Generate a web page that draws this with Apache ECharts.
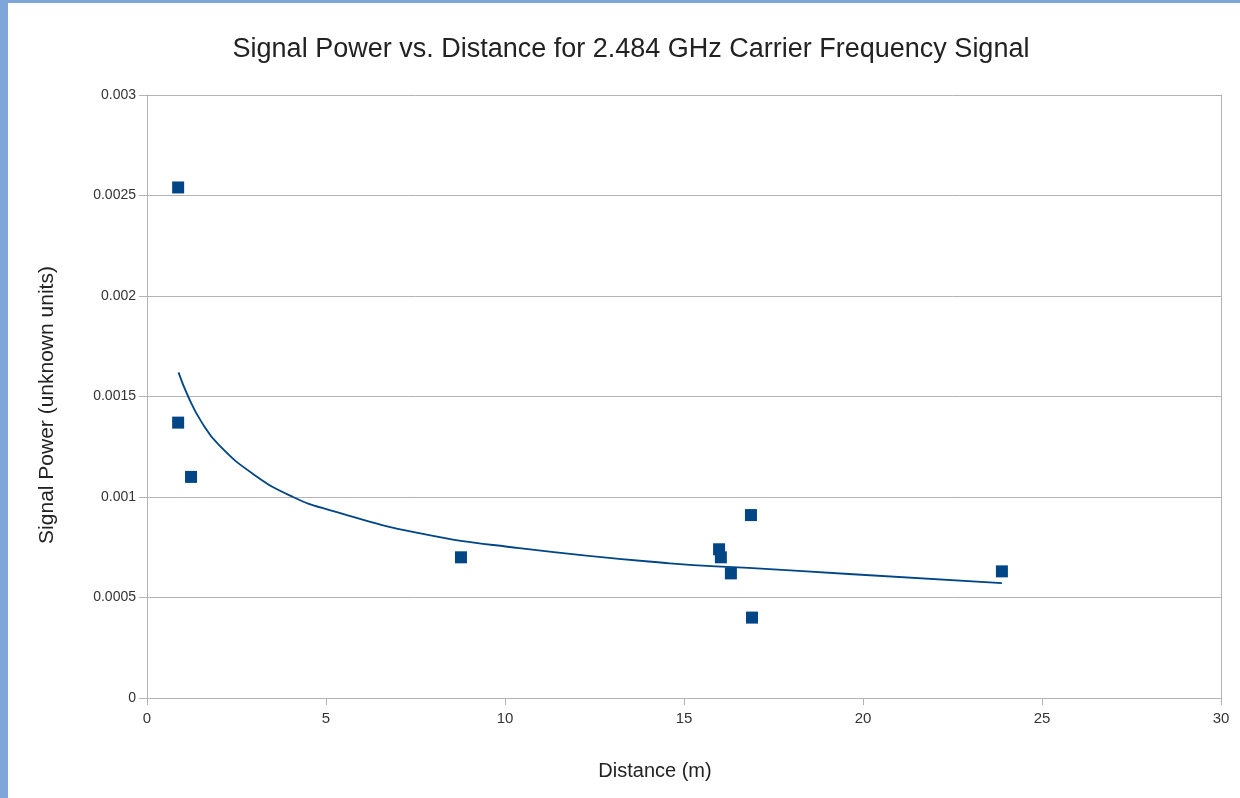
<!DOCTYPE html>
<html>
<head>
<meta charset="utf-8">
<script src="https://cdn.jsdelivr.net/npm/echarts@6/dist/echarts.min.js"></script>
<style>
    html, body { margin: 0; padding: 0; background: #fff; }
    #chart { width: 1240px; height: 798px; }
</style>
</head>
<body>
<div id="chart"></div>
<script>
// measured points: distance (m), signal power
const distance = [0.87, 0.87, 1.23, 8.77, 15.98, 16.03, 16.31, 16.87, 16.9, 23.88];
const power = [0.00254, 0.00137, 0.00110, 0.00070, 0.00074, 0.00070, 0.00062, 0.00091, 0.00040, 0.00063];

// trendline
const trendX = [0.88, 1.15, 1.5, 2, 3, 4.08, 5.1, 7.6, 10.4, 14.6, 16.8, 19.6, 23.88];
const trendY = [0.00162, 0.0015, 0.00138, 0.00126, 0.00111, 0.001, 0.000935, 0.00082, 0.000746, 0.00067, 0.000647, 0.000617, 0.000572];

const textColor = "#333";
const gridColor = "#b3b3b3";
const markColor = "#004586";
const stripe = "#7ea6d8";

const chart = echarts.init(document.getElementById("chart"));
chart.setOption({
    animation: false,
    backgroundColor: "#fff",
    textStyle: { fontFamily: "Liberation Sans" },
    graphic: [
        { type: "rect", shape: { x: 0, y: 0, width: 8, height: 798 }, style: { fill: stripe } },
        { type: "rect", shape: { x: 0, y: 0, width: 1240, height: 3 }, style: { fill: stripe } },
        {
            type: "text", x: 655, y: 771,
            style: { text: "Distance (m)", fontSize: 20, fill: "#222", fontFamily: "Liberation Sans", align: "center", verticalAlign: "middle" },
        },
        {
            type: "text", x: 47, y: 405, rotation: Math.PI / 2,
            style: { text: "Signal Power (unknown units)", fontSize: 21, fill: "#222", fontFamily: "Liberation Sans", align: "center", verticalAlign: "middle" },
        },
    ],
    title: {
        text: "Signal Power vs. Distance for 2.484 GHz Carrier Frequency Signal",
        left: 626, top: 31, textAlign: "center",
        textStyle: { fontSize: 27, fontWeight: "normal", color: "#222", fontFamily: "Liberation Sans" },
    },
    grid: { left: 147, right: 19, top: 95, bottom: 100 },
    xAxis: {
        type: "value", min: 0, max: 30, interval: 5,
        axisLine: { show: true, lineStyle: { color: gridColor } },
        axisTick: { show: true, length: 7, lineStyle: { color: gridColor } },
        axisLabel: { fontSize: 15, color: textColor, margin: 13 },
        splitLine: { show: false },
    },
    yAxis: [{
        type: "value", min: 0, max: 0.003, interval: 0.0005,
        axisLine: { show: true, lineStyle: { color: gridColor } },
        axisTick: { show: true, length: 8, lineStyle: { color: gridColor } },
        axisLabel: { fontSize: 14, color: textColor, margin: 11 },
        splitLine: { show: true, lineStyle: { color: gridColor } },
    }, {
        type: "value", min: 0, max: 0.003, position: "right",
        axisLine: { show: true, lineStyle: { color: gridColor } },
        axisTick: { show: false }, axisLabel: { show: false }, splitLine: { show: false },
    }],
    series: [{
        name: "Trend", type: "line", smooth: true, showSymbol: false,
        data: trendX.map((x, i) => [x, trendY[i]]),
        lineStyle: { color: markColor, width: 1.8 },
    }, {
        name: "Signal", type: "scatter", symbol: "rect", symbolSize: 12,
        data: distance.map((x, i) => [x, power[i]]),
        itemStyle: { color: markColor, opacity: 1 },
    }],
});
</script>
</body>
</html>
